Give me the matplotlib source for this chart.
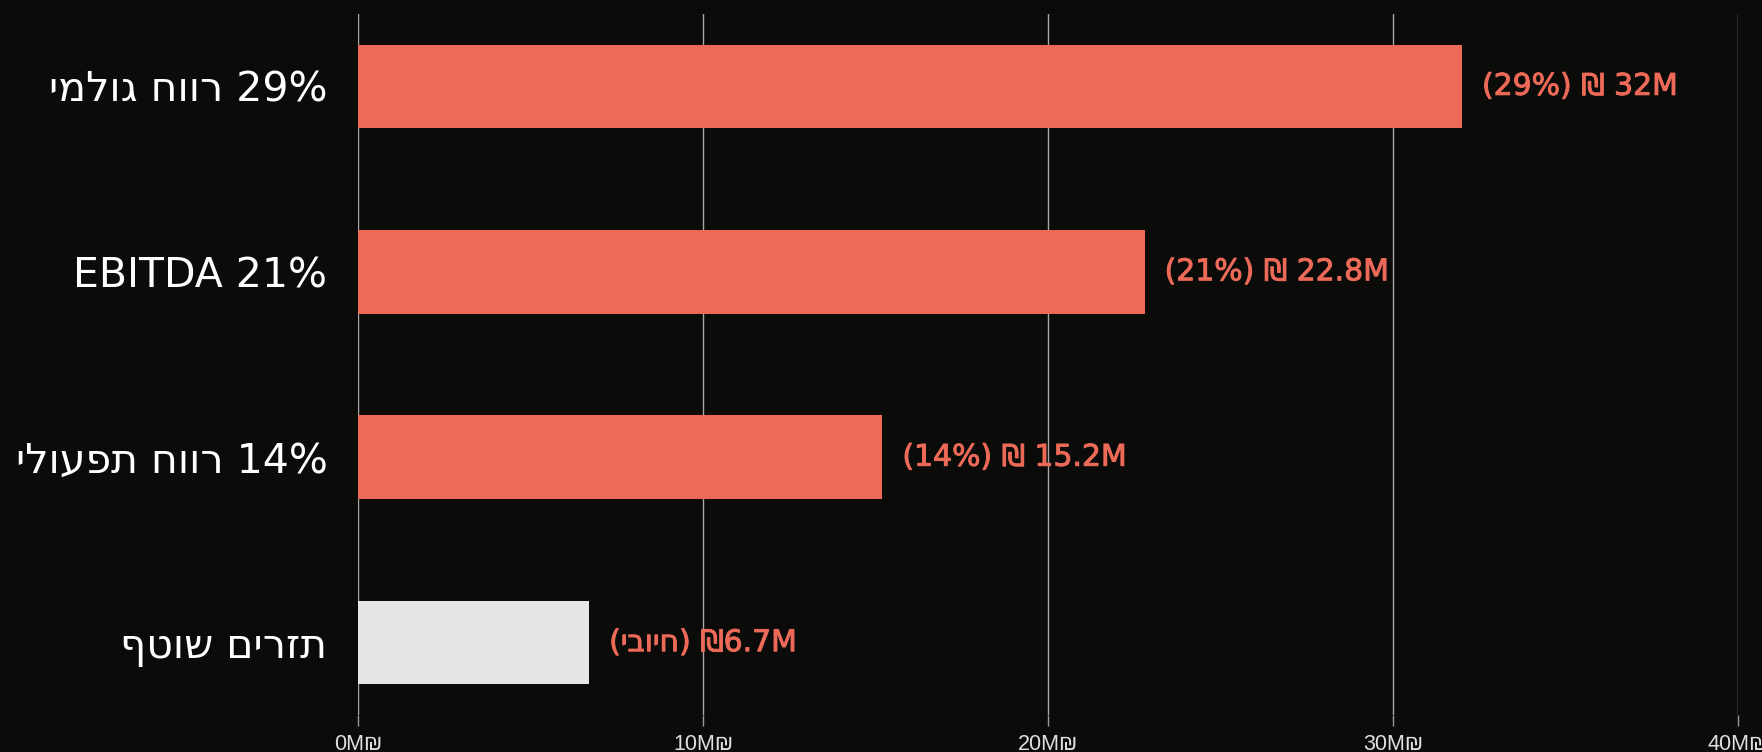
import matplotlib.pyplot as plt
import matplotlib.patheffects as pe
from matplotlib.ticker import FuncFormatter

# Hebrew strings are stored in visual (left-to-right) order, since matplotlib has no bidi
categories = ["ימלוג חוור 29%", "EBITDA 21%", "ילועפת חוור 14%", "ףטוש םירזת"]
values = [32.0, 22.8, 15.2, 6.7]
value_labels = ["(29%) ₪ 32M", "(21%) ₪ 22.8M", "(14%) ₪ 15.2M", "(יבויח) ₪6.7M"]
bar_colors = ["#EC6A57", "#EC6A57", "#EC6A57", "#E6E6E6"]
xticks = [0, 10, 20, 30, 40]

bg = "#0B0B0A"
fig = plt.figure(figsize=(17.62, 7.52), dpi=100, facecolor=bg)
ax = fig.add_axes([358 / 1762, 37 / 752, 1380 / 1762, 701 / 752])
ax.set_facecolor(bg)

y = range(len(categories))
ax.barh(y, values, height=0.45, color=bar_colors, zorder=3)

for yi, v, lab in zip(y, values, value_labels):
    ax.text(v + 0.58, yi, lab, color="#EC6A57", fontsize=21.5,
            family=["DejaVu Sans"], va="center", ha="left", zorder=4,
            path_effects=[pe.withStroke(linewidth=0.7, foreground="#EC6A57")])

ax.set_xlim(0, 40)
ax.set_ylim(3.39, -0.39)
ax.set_xticks(xticks)
ax.xaxis.set_major_formatter(FuncFormatter(lambda v, p: f"{v:.0f}M₪"))
ax.set_yticks(list(y))
ax.set_yticklabels(categories, fontsize=29.5, color="white", family=["DejaVu Sans"])
ax.tick_params(axis="y", length=0, pad=22)
ax.tick_params(axis="x", colors="#9A9A9A", length=8, width=1, labelsize=15.5, labelcolor="#E0E0E0", pad=6)
for t in ax.get_xticklabels():
    t.set_family(["Liberation Sans", "DejaVu Sans"])

ax.grid(axis="x", color="#A8A8A8", linewidth=1, zorder=0)
for s in ax.spines.values():
    s.set_visible(False)

plt.savefig("out.png", dpi=100, facecolor=bg)
